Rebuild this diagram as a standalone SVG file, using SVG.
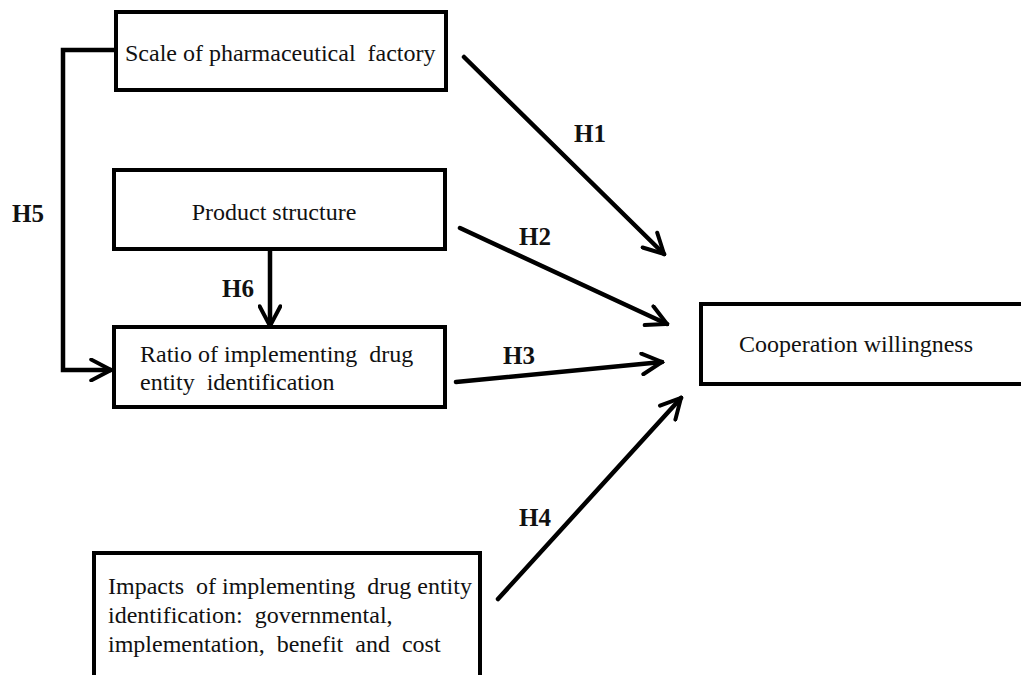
<svg xmlns="http://www.w3.org/2000/svg" width="1021" height="675" viewBox="0 0 1021 675">
<style>
.box{fill:#fff;stroke:#000;stroke-width:4}
.t{font-family:"Liberation Serif","Times New Roman",serif;font-size:24px;fill:#111;white-space:pre}
.lbl{font-family:"Liberation Serif","Times New Roman",serif;font-size:25px;font-weight:bold;fill:#111}
.c{fill:none;stroke:#000;stroke-width:4.5;stroke-linecap:round;stroke-linejoin:miter}
</style>
<defs>
<marker id="ah" viewBox="0 0 10 10" refX="9" refY="5" markerWidth="5.5" markerHeight="5.5" markerUnits="strokeWidth" orient="auto">
<path d="M1,0.8 L9,5 L1,9.2" fill="none" stroke="#000" stroke-width="1.6" stroke-linecap="round" stroke-linejoin="miter"/>
</marker>
</defs>
<rect width="1021" height="675" fill="#fff"/>
<g id="connectors">
<path class="c" d="M116,50 H63 V370 H111" marker-end="url(#ah)"/>
<path class="c" d="M270,249 V326" marker-end="url(#ah)"/>
<path class="c" d="M464,57 L664,254" marker-end="url(#ah)"/>
<path class="c" d="M460,228 L667,324" marker-end="url(#ah)"/>
<path class="c" d="M456,382 L662,362" marker-end="url(#ah)"/>
<path class="c" d="M498,599 L681,398" marker-end="url(#ah)"/>
</g>
<g id="labels">
<text class="lbl" x="590" y="142" text-anchor="middle">H1</text>
<text class="lbl" x="535" y="245" text-anchor="middle">H2</text>
<text class="lbl" x="519" y="364" text-anchor="middle">H3</text>
<text class="lbl" x="535" y="526" text-anchor="middle">H4</text>
<text class="lbl" x="28" y="222" text-anchor="middle">H5</text>
<text class="lbl" x="238" y="297" text-anchor="middle">H6</text>
</g>
<g id="node-scale">
<rect class="box" x="116" y="12" width="330" height="78"/>
<text class="t" x="125" y="61">Scale of pharmaceutical  factory</text>
</g>
<g id="node-product">
<rect class="box" x="114" y="170" width="331" height="79"/>
<text class="t" x="274" y="220" text-anchor="middle">Product structure</text>
</g>
<g id="node-ratio">
<rect class="box" x="114" y="327" width="331" height="80"/>
<text class="t" x="140" y="362">Ratio of implementing  drug</text>
<text class="t" x="140" y="390">entity  identification</text>
</g>
<g id="node-cooperation">
<rect class="box" x="701" y="304" width="330" height="80"/>
<text class="t" x="739" y="352">Cooperation willingness</text>
</g>
<g id="node-impacts">
<rect class="box" x="94" y="553" width="386" height="140"/>
<text class="t" x="108" y="594">Impacts  of implementing  drug entity</text>
<text class="t" x="108" y="623">identification:  governmental,</text>
<text class="t" x="108" y="652">implementation,  benefit  and  cost</text>
</g>
</svg>
